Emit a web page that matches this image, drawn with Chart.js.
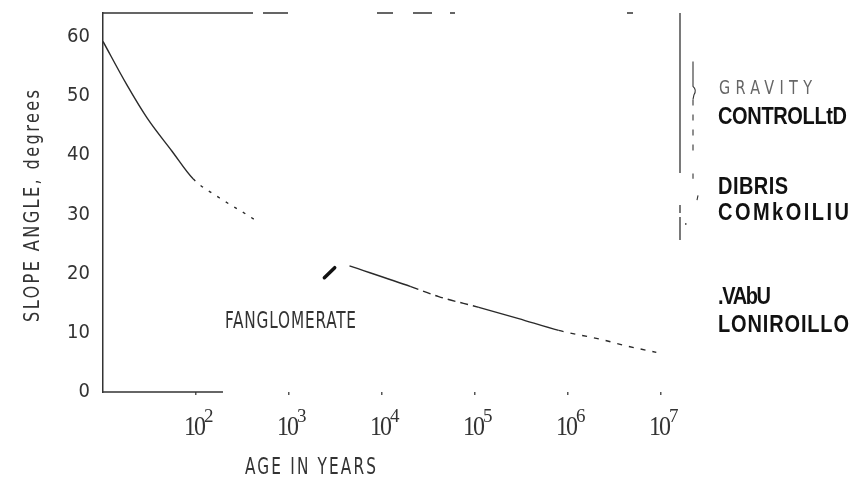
<!DOCTYPE html>
<html>
<head>
<meta charset="utf-8">
<script src="https://cdn.jsdelivr.net/npm/chart.js@4.4.1/dist/chart.umd.min.js"></script>
<style>
  html, body { margin: 0; padding: 0; background: #fff; }
</style>
</head>
<body>
<canvas id="slopeChart" width="852" height="481"></canvas>
<script>
// slope angle vs age (null = gap in the curve)
const ageYears = [10, 18, 30, 55, 93, 178, 339, 479, 1500, 4470, 20400, 40700, 110000, 295000, 794000, 2240000, 4470000, 8900000];
const slopeDeg = [59.2, 51.9, 46.2, 40.7, 36.0, 32.8, 30.1, 28.6, null, 21.3, 17.8, 16.1, 14.3, 12.4, 10.4, 8.9, 7.7, 6.7];

// dark smudge just left of the restart of the curve
const smudgeAge = [2400, 3100];
const smudgeDeg = [19.3, 21.0];

const xTicks = [1e2, 1e3, 1e4, 1e5, 1e6, 1e7];
const xTickBase = "10";
const xTickExp = ["2", "3", "4", "5", "6", "7"];
const yTicks = [0, 10, 20, 30, 40, 50, 60];

const xTitle = "AGE IN YEARS";
const yTitle = "SLOPE ANGLE, degrees";
const curveLabel = "FANGLOMERATE";
const lightNote = "GRAVITY";
const boldNotes = ["CONTROLLtD", "DIBRIS", "COMkOILIU", ".VAbU", "LONIROILLO"];

const narrow = '"Liberation Sans Narrow", "DejaVu Sans Condensed", sans-serif';

// draw text stretched to a given width (left edge at x), optionally taller
function fitText(ctx, text, x, y, width, vScale = 1) {
	ctx.letterSpacing = "0px";
	const w = ctx.measureText(text).width;
	const sp = text.length > 1 ? (width - w) / (text.length - 1) : 0;
	ctx.save();
	ctx.translate(x, y);
	ctx.scale(1, vScale);
	ctx.letterSpacing = sp + "px";
	ctx.fillText(text, 0, 0);
	ctx.restore();
}

function seg(ctx, x1, y1, x2, y2) {
	ctx.beginPath();
	ctx.moveTo(x1, y1);
	ctx.lineTo(x2, y2);
	ctx.stroke();
}

const frameAndNotes = {
	id: "frameAndNotes",
	afterDatasetsDraw(chart) {
		const { ctx, chartArea: a, scales: { x, y } } = chart;
		ctx.save();
		ctx.strokeStyle = "#333";
		ctx.lineWidth = 1.3;

		// broken top edge
		ctx.setLineDash([150, 10, 25, 89, 16, 20, 19, 18, 5, 172, 6, 60]);
		seg(ctx, a.left, a.top, a.right, a.top);
		// right edge: solid, then broken
		ctx.setLineDash([160, 32, 8, 4, 23, 400]);
		seg(ctx, a.right, a.top, a.right, a.bottom);
		// baseline only survives near the origin
		ctx.setLineDash([]);
		seg(ctx, a.left, a.bottom, x.getPixelForValue(195), a.bottom);

		// inner bracket
		const bx = a.right + 13;
		ctx.lineWidth = 1.1;
		ctx.beginPath();
		ctx.moveTo(bx, y.getPixelForValue(55.8));
		ctx.lineTo(bx, y.getPixelForValue(51.6));
		ctx.quadraticCurveTo(bx + 4, y.getPixelForValue(51.0), bx + 1, y.getPixelForValue(50.2));
		ctx.lineTo(bx, y.getPixelForValue(49.4));
		ctx.stroke();
		ctx.setLineDash([6, 9]);
		seg(ctx, bx, y.getPixelForValue(49.4), bx, y.getPixelForValue(40.8));
		ctx.setLineDash([]);
		seg(ctx, bx, y.getPixelForValue(36.9), bx, y.getPixelForValue(36.0));
		seg(ctx, bx + 5, y.getPixelForValue(33.2), bx + 4, y.getPixelForValue(32.4));
		ctx.fillStyle = "#333";
		ctx.fillRect(a.right + 5, y.getPixelForValue(28.5), 1.5, 1.5);

		// x tick labels: 10 with raised exponent
		ctx.fillStyle = "#333";
		ctx.textBaseline = "alphabetic";
		ctx.textAlign = "left";
		xTicks.forEach((v, i) => {
			const px = x.getPixelForValue(v);
			ctx.font = '24px "Liberation Serif", serif';
			fitText(ctx, xTickBase, px - 12, a.bottom + 43, 22, 1.1);
			ctx.font = '19px "Liberation Serif", serif';
			ctx.fillText(xTickExp[i], px + 8, a.bottom + 30);
		});

		// axis titles
		ctx.textBaseline = "middle";
		ctx.font = "17px " + narrow;
		fitText(ctx, xTitle, a.left + 142, 468, 131, 1.3);
		fitText(ctx, curveLabel, x.getPixelForValue(1050) - 66, y.getPixelForValue(11.8), 131, 1.3);
		ctx.save();
		ctx.translate(33, 206);
		ctx.rotate(-Math.PI / 2);
		ctx.font = "18px " + narrow;
		fitText(ctx, yTitle, -116, 0, 232, 1.2);
		ctx.restore();

		// notes on the right
		const nx = a.right + 39;
		ctx.fillStyle = "#666";
		ctx.font = "16px " + narrow;
		fitText(ctx, lightNote, nx, y.getPixelForValue(51.1), 93, 1.2);
		ctx.fillStyle = "#111";
		ctx.font = 'bold 20px "Liberation Sans", Arial, sans-serif';
		const noteY = [46.4, 34.6, 30.1, 16.0, 11.3];
		const noteW = [129, 70, 131, 53, 131];
		boldNotes.forEach((t, i) => fitText(ctx, t, nx - 1, y.getPixelForValue(noteY[i]), noteW[i], 1.2));
		ctx.restore();
	}
};

const ctx = document.getElementById("slopeChart").getContext("2d");
new Chart(ctx, {
	type: "line",
	data: {
		datasets: [
			{
				label: "slope",
				data: ageYears.map((a, i) => ({ x: a, y: slopeDeg[i] })),
				borderColor: "#2a2a2a",
				borderWidth: 1.4,
				pointRadius: 0,
				fill: false,
				spanGaps: false,
				cubicInterpolationMode: "monotone",
				segment: {
					borderDash: c => {
						const x0 = c.p0.parsed.x;
						if (x0 >= 93 && x0 < 479) return [3, 7];
						if (x0 >= 20400 && x0 < 110000) return [8, 5];
						if (x0 >= 794000) return [5, 7];
						return undefined;
					}
				}
			},
			{
				label: "smudge",
				data: smudgeAge.map((a, i) => ({ x: a, y: smudgeDeg[i] })),
				borderColor: "#111",
				borderWidth: 3.5,
				borderCapStyle: "round",
				pointRadius: 0,
				fill: false
			}
		]
	},
	options: {
		responsive: false,
		animation: false,
		layout: { padding: { left: 0, top: 13, right: 172, bottom: 0 } },
		plugins: {
			legend: { display: false },
			tooltip: { enabled: false }
		},
		scales: {
			x: {
				type: "logarithmic",
				min: 10,
				max: 1.6e7,
				afterBuildTicks: s => { s.ticks = xTicks.map(v => ({ value: v })); },
				afterFit: s => { s.height = 89; s.paddingLeft = 0; s.paddingRight = 0; },
				border: { display: false },
				grid: { display: true, drawOnChartArea: false, drawTicks: true, tickLength: 3, color: "#555", lineWidth: 1.5 },
				ticks: { display: false }
			},
			y: {
				type: "linear",
				min: 0,
				max: 64,
				afterBuildTicks: s => { s.ticks = yTicks.map(v => ({ value: v })); },
				afterFit: s => { s.width = 103; s.paddingTop = 0; s.paddingBottom = 0; },
				border: { display: true, color: "#333", width: 1.5 },
				grid: { display: false },
				ticks: {
					padding: 5,
					color: "#333",
					font: { family: '"DejaVu Sans Condensed", sans-serif', size: 20 }
				}
			}
		}
	},
	plugins: [frameAndNotes]
});
</script>
</body>
</html>
